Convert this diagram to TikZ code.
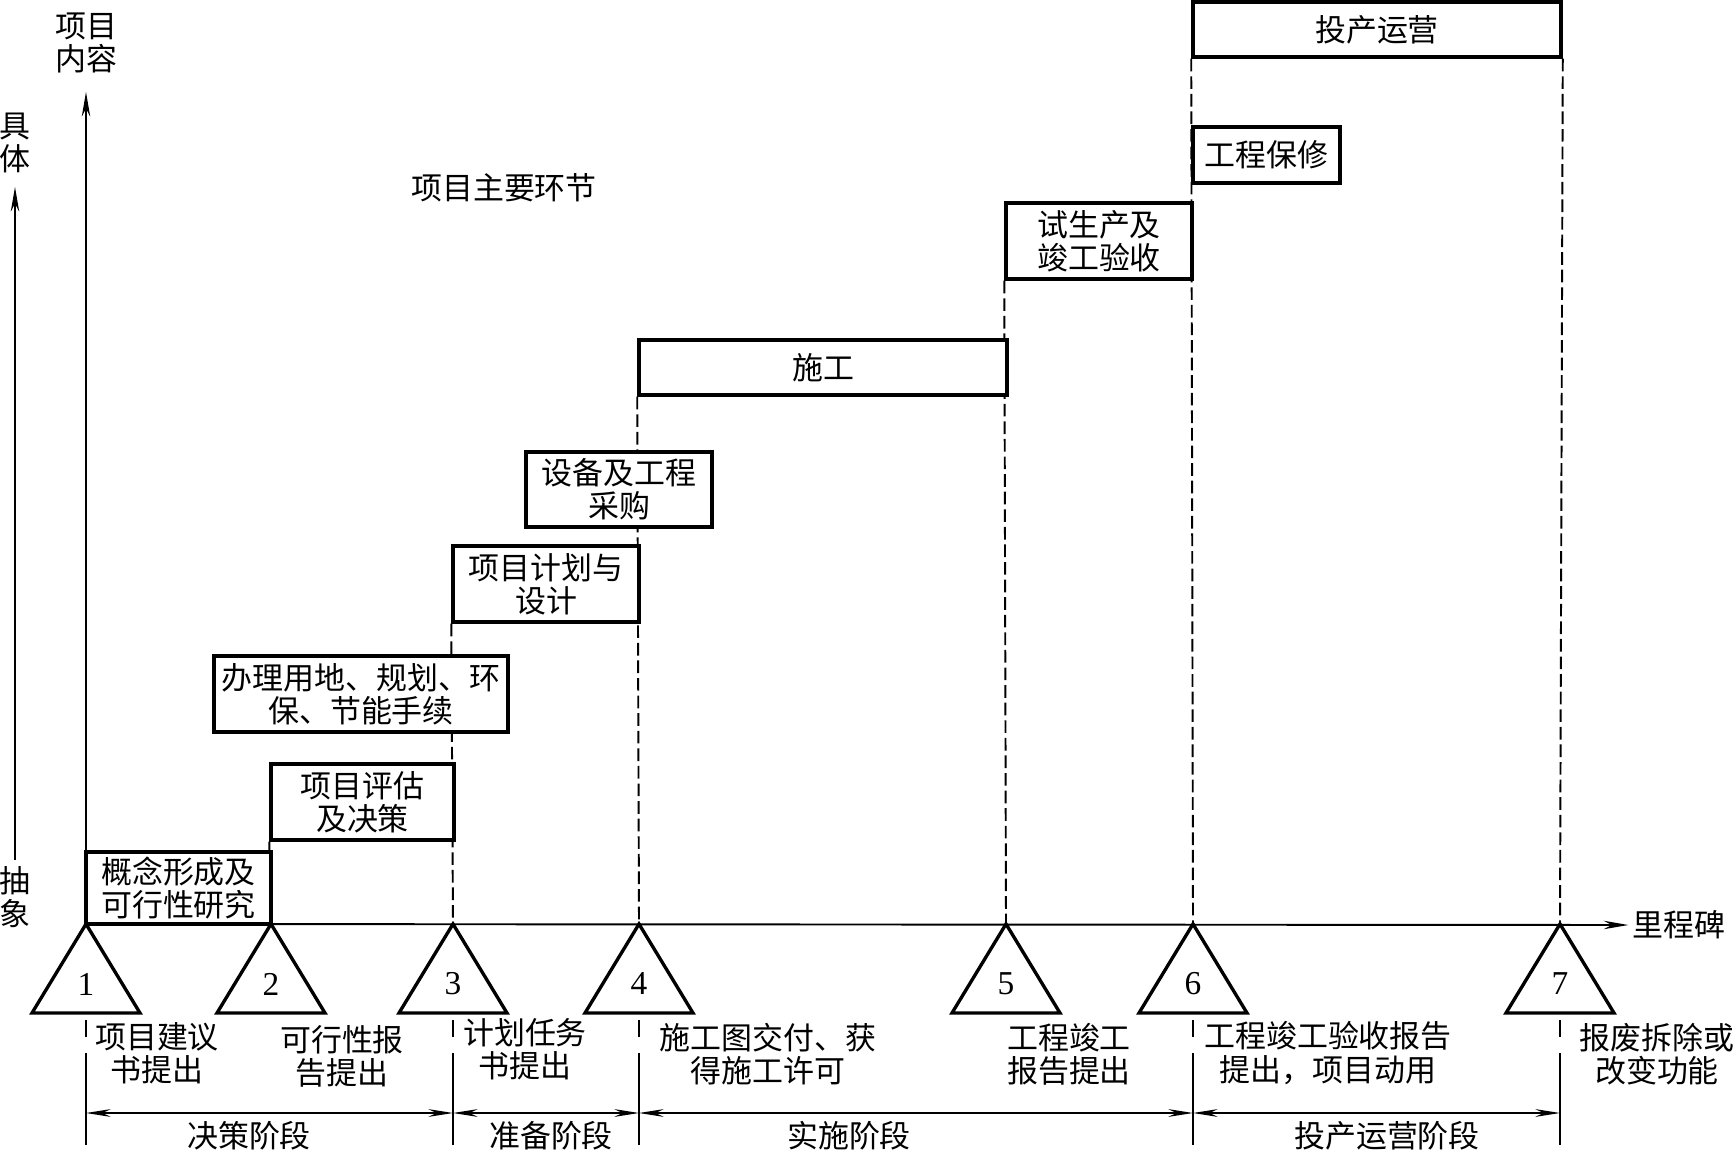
\documentclass[tikz,border=0pt]{standalone}
\usepackage{fontspec}
\setmainfont{Liberation Serif}
\newfontfamily\cjk{Noto Sans CJK SC}
\usetikzlibrary{arrows.meta, positioning}
\pgfdeclarelayer{background}
\pgfsetlayers{background,main}

\begin{document}
\begin{tikzpicture}[
    x=0.01cm, y=-0.01cm,
    stage/.style={
        rectangle, draw=black, line width=0.95pt, fill=white,
        inner sep=0pt, align=center,
        font=\cjk\fontsize{8.8pt}{9.4pt}\selectfont
    },
    note/.style={inner sep=0pt, align=center,
        font=\cjk\fontsize{8.8pt}{9.4pt}\selectfont},
    num/.style={inner sep=0pt, font=\fontsize{9.5pt}{11pt}\selectfont},
    arr/.style={-{Stealth[length=7pt, width=2.4pt]}, line width=0.55pt},
    dimarr/.style={{Stealth[length=7pt, width=2.2pt]}-{Stealth[length=7pt, width=2.2pt]},
        line width=0.4pt},
    guide/.style={dash pattern=on 3.6pt off 1.4pt, line width=0.55pt},
    extline/.style={dash pattern=on 0.17cm off 0.16cm on 0.95cm, line width=0.35pt},
    marker/.style={line width=0.95pt, line join=miter}
]
\useasboundingbox (0,0) rectangle (1733,1152);

% ===================================================================
% AXES
% ===================================================================
\coordinate (ytip) at (86,92);
\node[note] (ylabel) at (86,43) {项目\\内容};

\coordinate (lbot) at (15,860);
\coordinate (ltop) at (15,187);
\node[note] (concrete) at (15,143) {具\\体};
\node[note] (abstract) at (15,897) {抽\\象};
\draw[arr] (lbot) -- (ltop);

\node[note] (title) at (504,188) {项目主要环节};
\node[note, inner sep=1pt] (mslabel) at (1679,925) {里程碑};

% milestones
\foreach \n/\x in {1/86,2/271,3/453,4/639,5/1006,6/1193,7/1560} {
    \coordinate (a\n) at (\x,924);
    \draw[marker] (a\n) -- ++(-54,89) -- ++(108,0) -- cycle;
    \node[num] (m\n) at (\x,984) {\n};
}

\draw[arr] (a1) -- (ytip);
\draw[arr] (a1) -- (mslabel.west);

% ===================================================================
% STAGES
% ===================================================================
\node[stage, minimum width=1.85cm, minimum height=0.72cm] (concept)
    at (178.5,888) {概念形成及\\可行性研究};
\node[stage, minimum width=1.83cm, minimum height=0.76cm] (assess)
    at (362.5,802) {项目评估\\及决策};
\node[stage, minimum width=2.94cm, minimum height=0.76cm] (permit)
    at (361,694) {办理用地、规划、环\\保、节能手续};
\node[stage, minimum width=1.86cm, minimum height=0.76cm] (plan)
    at (546,584) {项目计划与\\设计};
\node[stage, minimum width=1.86cm, minimum height=0.75cm] (procure)
    at (619,489.5) {设备及工程\\采购};
\node[stage, minimum width=3.68cm, minimum height=0.55cm] (build)
    at (823,367.5) {施工};
\node[stage, minimum width=1.86cm, minimum height=0.76cm] (trial)
    at (1099,241) {试生产及\\竣工验收};
\node[stage, minimum width=1.47cm, minimum height=0.56cm] (warranty)
    at (1266.5,155) {工程保修};
\node[stage, minimum width=3.68cm, minimum height=0.55cm] (operate)
    at (1377,29.5) {投产运营};

% guide lines behind the stages
\begin{pgfonlayer}{background}
\draw[line width=0.55pt] (assess.south west) -- (a2);
\draw[guide] (plan.south west) -- (a3);
\draw[guide] (build.south west) -- (a4);
\draw[guide] (trial.south west) -- (a5);
\draw[guide] (operate.south west) -- (a6);
\draw[guide] (operate.south east) -- (a7);
\end{pgfonlayer}

% ===================================================================
% MILESTONE NOTES
% ===================================================================
\node[note] (n1) at (157,1053) {项目建议\\书提出};
\node[note] (n2) at (342,1056) {可行性报\\告提出};
\node[note] (n3) at (525,1049) {计划任务\\书提出};
\node[note] (n4) at (768,1054) {施工图交付、获\\得施工许可};
\node[note] (n5) at (1069,1054) {工程竣工\\报告提出};
\node[note] (n6) at (1328,1053) {工程竣工验收报告\\提出，项目动用};
\node[note] (n7) at (1657,1054) {报废拆除或\\改变功能};

% ===================================================================
% PHASES
% ===================================================================
\foreach \n/\x in {1/86,3/453,4/639,6/1193,7/1560} {
    \draw[extline] (\x,1020) -- (\x,1145);
    \coordinate (d\n) at (\x,1113);
}
\draw[dimarr] (d1) -- (d3);
\draw[dimarr] (d3) -- (d4);
\draw[dimarr] (d4) -- (d6);
\draw[dimarr] (d6) -- (d7);

\node[note] (decide) at (249,1136) {决策阶段};
\node[note] (prepare) at (551,1136) {准备阶段};
\node[note] (execute) at (849,1136) {实施阶段};
\node[note] (run) at (1387,1136) {投产运营阶段};

\end{tikzpicture}
\end{document}
